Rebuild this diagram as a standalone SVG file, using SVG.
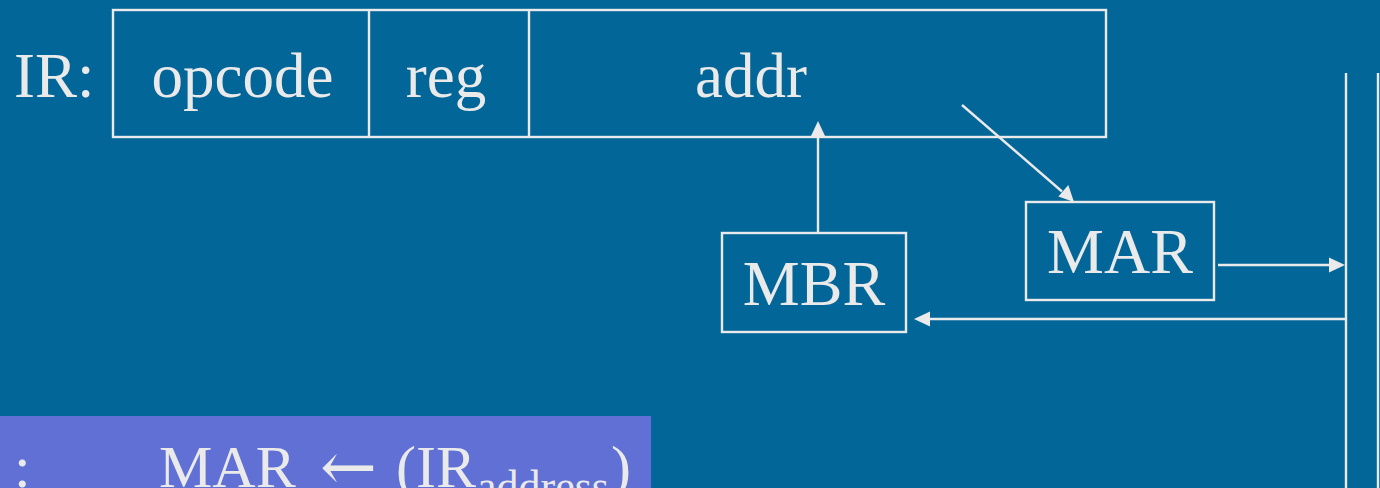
<svg xmlns="http://www.w3.org/2000/svg" width="1380" height="488" viewBox="0 0 1380 488">
  <defs>
    <style>
      .box { fill: none; stroke: #EAEAEA; stroke-width: 2.4; }
      .wire { fill: none; stroke: #EAEAEA; stroke-width: 2.4; }
      .head { fill: #EAEAEA; stroke: none; }
      .lbl { font-family: "Liberation Serif", "Times New Roman", serif; font-size: 63px; fill: #EAEAEA; }
      .big { font-size: 64px; }
      .rtl { font-family: "Liberation Serif", "Times New Roman", serif; font-size: 60px; fill: #EAEAEA; }
      .sub { font-size: 44px; }
      .arr { font-family: "DejaVu Serif", "Liberation Serif", serif; font-size: 68px; }
    </style>
  </defs>

  <!-- background -->
  <rect x="0" y="0" width="1380" height="488" fill="#036699"/>

  <!-- instruction register with its three fields -->
  <g id="ir">
    <text class="lbl" x="14" y="97">IR:</text>
    <rect class="box" x="113" y="10" width="993" height="127"/>
    <line class="box" x1="369" y1="10" x2="369" y2="137"/>
    <line class="box" x1="529" y1="10" x2="529" y2="137"/>
    <text class="lbl" x="242.5" y="97" text-anchor="middle">opcode</text>
    <text class="lbl" x="446" y="97" text-anchor="middle">reg</text>
    <text class="lbl" x="751" y="97" text-anchor="middle">addr</text>
  </g>

  <!-- memory address register -->
  <g id="mar">
    <rect class="box" x="1026" y="202" width="188" height="98"/>
    <text class="lbl big" x="1120" y="273" text-anchor="middle">MAR</text>
  </g>

  <!-- memory buffer register -->
  <g id="mbr">
    <rect class="box" x="722" y="233" width="184" height="99"/>
    <text class="lbl big" x="814" y="305" text-anchor="middle">MBR</text>
  </g>

  <!-- memory bus edge -->
  <g id="memory">
    <line class="wire" x1="1346" y1="73" x2="1346" y2="488"/>
    <line class="wire" x1="1378" y1="73" x2="1378" y2="488"/>
  </g>

  <!-- data paths: shafts, then arrowheads -->
  <g id="connectors">
    <line class="wire" x1="818" y1="233" x2="818" y2="134"/>
    <polygon class="head" points="818,121 825.5,137 810.5,137"/>

    <line class="wire" x1="962" y1="105" x2="1062" y2="191.5"/>
    <polygon class="head" points="1074,202 1058.4,196.5 1068.3,185"/>

    <line class="wire" x1="1218" y1="265" x2="1332" y2="265"/>
    <polygon class="head" points="1345,265 1329,257.5 1329,272.5"/>

    <line class="wire" x1="1346" y1="319" x2="928" y2="319"/>
    <polygon class="head" points="914,319 930,311.5 930,326.5"/>
  </g>

  <!-- register transfer statement -->
  <g id="rtl">
    <rect x="0" y="416" width="651" height="72" fill="#6070D4"/>
    <text class="rtl" x="14" y="487">:</text>
    <text class="rtl" x="159" y="487">MAR</text>
    <text class="rtl arr" x="320" y="490">←</text>
    <text class="rtl" x="396" y="487">(IR</text>
    <text class="rtl sub" x="477" y="501">address</text>
    <text class="rtl" x="611" y="487">)</text>
  </g>
</svg>
